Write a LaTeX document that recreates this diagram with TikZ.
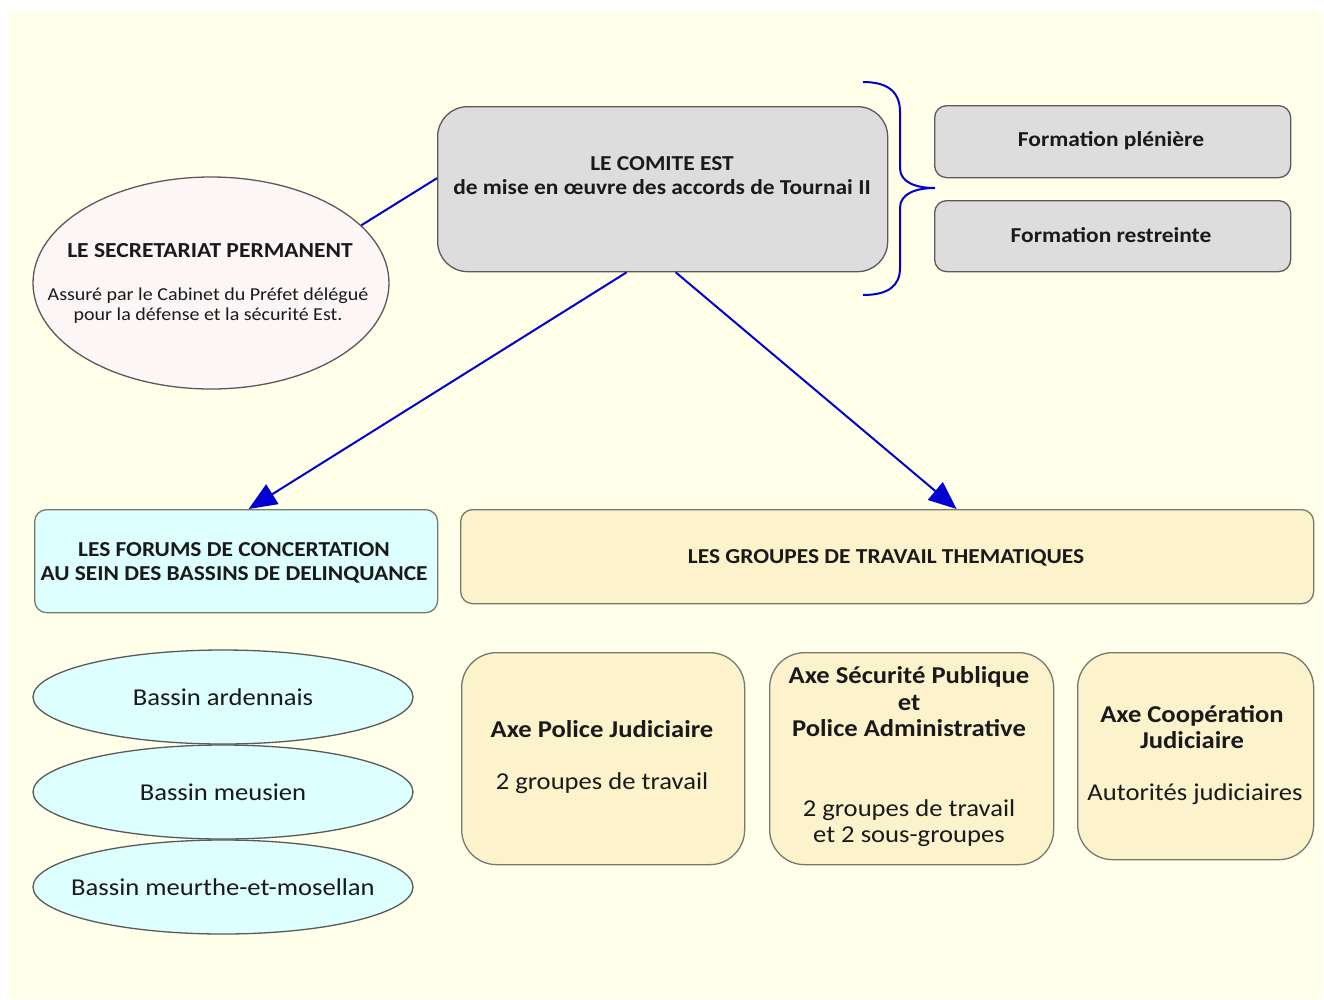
\documentclass[tikz,border=0pt]{standalone}
\usepackage{fontspec}
\setmainfont{Carlito}[FakeStretch=1.1]
\usetikzlibrary{arrows.meta,shapes.geometric,calc}
\definecolor{bg}{HTML}{FFFFEA}
\definecolor{boxgray}{HTML}{DDDDDD}
\definecolor{edge}{HTML}{5A5A5A}
\definecolor{edgeb}{HTML}{767A6E}
\definecolor{cyanfill}{HTML}{DDFFFF}
\definecolor{beige}{HTML}{FCF3CC}
\definecolor{pinkfill}{HTML}{FCF6F6}
\definecolor{linkblue}{HTML}{0000D0}
\definecolor{ink}{HTML}{1A1A1A}
\begin{document}
\begin{tikzpicture}[x=1pt,y=-1pt,
  box/.style={draw=edge, line width=1.3pt, inner sep=0pt, anchor=north west},
  graybox/.style={box, fill=boxgray},
  cyanbox/.style={box, draw=edgeb, fill=cyanfill, rounded corners=12pt},
  beigebox/.style={box, draw=edgeb, fill=beige},
  oval/.style={ellipse, draw=edge, line width=1.3pt, inner sep=0pt},
  txt/.style={text=ink, align=center, inner sep=0pt},
  hd/.style={txt, font=\fontsize{21.3}{24}\selectfont\bfseries},
  bd/.style={txt, font=\fontsize{24.2}{26.5}\selectfont},
  bdb/.style={txt, font=\fontsize{24.2}{26.5}\selectfont\bfseries},
  link/.style={draw=linkblue, line width=2pt},
  arr/.style={link, -{Triangle[length=28pt,width=23pt]}},
  ]
\useasboundingbox (0,0) rectangle (1324,999);
\fill[bg] (8,10) rectangle (1322,999);

% top level
\node[graybox, rounded corners=30pt, minimum width=450pt, minimum height=165pt] (comite) at (437,106) {};
\node[hd] (comitetxt) at (662,176) {LE COMITE EST\\de mise en œuvre des accords de Tournai II};

\node[graybox, rounded corners=12pt, minimum width=356pt, minimum height=72pt] (pleniere) at (934,105) {};
\node[hd] (plenieretxt) at (1111,141) {Formation plénière};
\node[graybox, rounded corners=12pt, minimum width=356pt, minimum height=71pt] (restreinte) at (934,200) {};
\node[hd] (restreintetxt) at (1111,235) {Formation restreinte};

% brace
\coordinate (bracetop) at (863,82);
\coordinate (bracetip) at (935,188);
\coordinate (bracebot) at (863,295);
\draw[link] (bracetop) .. controls (888,82) and (900,92) .. (900,112) -- (900,168)
  .. controls (900,182) and (915,188) .. (bracetip)
  .. controls (915,188) and (900,194) .. (900,208) -- (900,268)
  .. controls (900,286) and (888,295) .. (bracebot);

% secretariat
\node[oval, fill=pinkfill, minimum width=356pt, minimum height=212pt] (secr) at (211,283) {};
\node[txt, font=\fontsize{21.4}{24}\selectfont\bfseries] (secrtitle) at (210,251) {LE SECRETARIAT PERMANENT};
\node[txt, font=\fontsize{18.2}{20}\selectfont] (secrsub) at (208,306) {Assuré par le Cabinet du Préfet délégué\\pour la défense et la sécurité Est.};
\draw[link] (secr.21) -- ([yshift=11pt]comite.west);

% second level
\node[cyanbox, minimum width=403pt, minimum height=103pt] (forums) at (34,509) {};
\node[hd] (forumstxt) at (234,563) {LES FORUMS DE CONCERTATION\\AU SEIN DES BASSINS DE DELINQUANCE};
\node[beigebox, rounded corners=12pt, minimum width=853pt, minimum height=94pt] (groupes) at (460,509) {};
\node[hd] (groupestxt) at (886,558) {LES GROUPES DE TRAVAIL THEMATIQUES};

\draw[arr] ([xshift=-36pt]comite.south) -- ([xshift=12.5pt]forums.north);
\draw[arr] ([xshift=13pt]comite.south) -- ([xshift=69.5pt]groupes.north);

% bassins
\node[oval, fill=cyanfill, minimum width=380pt, minimum height=94pt] (b1) at (223,697) {};
\node[bd] (b1t) at (b1.center) {Bassin ardennais};
\node[oval, fill=cyanfill, minimum width=380pt, minimum height=94pt] (b2) at (223,792) {};
\node[bd] (b2t) at (b2.center) {Bassin meusien};
\node[oval, fill=cyanfill, minimum width=380pt, minimum height=94pt] (b3) at (223,887) {};
\node[bd] (b3t) at (b3.center) {Bassin meurthe-et-mosellan};

% axes
\node[beigebox, rounded corners=35pt, minimum width=283pt, minimum height=212pt] (axe1) at (461,652) {};
\node[bdb] (axe1a) at (602,729) {Axe Police Judiciaire};
\node[bd] (axe1b) at (602,783) {2 groupes de travail};

\node[beigebox, rounded corners=35pt, minimum width=284pt, minimum height=212pt] (axe2) at (769,652) {};
\node[bdb] (axe2a) at (909,702) {Axe Sécurité Publique\\et\\Police Administrative};
\node[bd] (axe2b) at (909,823) {2 groupes de travail\\et 2 sous-groupes};

\node[beigebox, rounded corners=35pt, minimum width=236pt, minimum height=207pt] (axe3) at (1077,652) {};
\node[bdb] (axe3a) at (1192,727) {Axe Coopération\\Judiciaire};
\node[bd] (axe3b) at (1195,794) {Autorités judiciaires};
\end{tikzpicture}
\end{document}
